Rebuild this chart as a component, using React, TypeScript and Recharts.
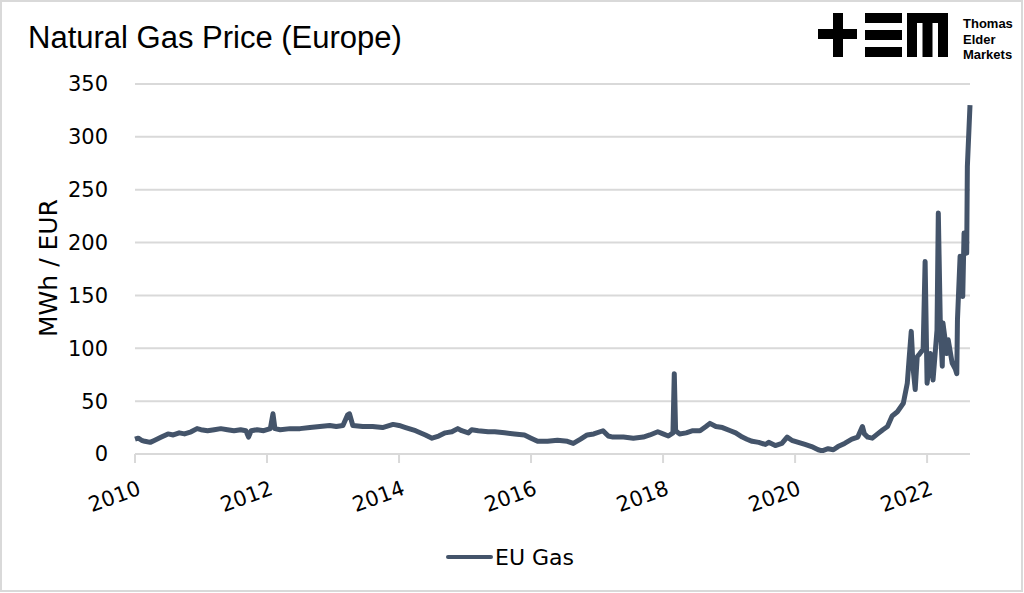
import React from 'react';
import { LineChart, Line, XAxis, YAxis, CartesianGrid } from 'recharts';

const dates = [
  2010.0, 2010.05, 2010.1, 2010.15, 2010.23, 2010.3, 2010.4, 2010.5, 2010.58, 2010.67, 2010.75, 2010.85, 2010.94,
  2011.0, 2011.1, 2011.2, 2011.3, 2011.4, 2011.5, 2011.6, 2011.68, 2011.72, 2011.76, 2011.85, 2011.95,
  2012.05, 2012.09, 2012.12, 2012.2, 2012.35, 2012.5, 2012.65, 2012.8, 2012.95,
  2013.05, 2013.15, 2013.22, 2013.25, 2013.3, 2013.45, 2013.6, 2013.75, 2013.91,
  2014.0, 2014.1, 2014.25, 2014.4, 2014.5, 2014.6, 2014.7, 2014.8, 2014.89, 2014.95,
  2015.05, 2015.1, 2015.2, 2015.35, 2015.45, 2015.6, 2015.75, 2015.9,
  2016.0, 2016.1, 2016.25, 2016.4, 2016.55, 2016.64, 2016.75, 2016.85, 2016.95,
  2017.09, 2017.17, 2017.24, 2017.4, 2017.55, 2017.7, 2017.8, 2017.92,
  2018.0, 2018.08, 2018.15, 2018.17, 2018.19, 2018.25, 2018.35, 2018.45, 2018.56, 2018.65, 2018.71, 2018.8, 2018.9,
  2019.02, 2019.1, 2019.2, 2019.27, 2019.35, 2019.45, 2019.55, 2019.6, 2019.7, 2019.8, 2019.88, 2019.95,
  2020.05, 2020.15, 2020.25, 2020.35, 2020.41, 2020.5, 2020.58, 2020.65, 2020.75, 2020.86, 2020.95,
  2021.02, 2021.05, 2021.1, 2021.17, 2021.25, 2021.33, 2021.4, 2021.47, 2021.55, 2021.64, 2021.7, 2021.73,
  2021.76, 2021.79, 2021.82, 2021.85, 2021.89, 2021.94, 2021.97, 2022.0, 2022.05, 2022.09, 2022.15, 2022.17,
  2022.2, 2022.23, 2022.24, 2022.3, 2022.32, 2022.38, 2022.43, 2022.45, 2022.46, 2022.5, 2022.54, 2022.56,
  2022.6, 2022.61, 2022.65,
];

const euGas = [
  14, 15, 13, 12, 11, 13, 16, 19, 18, 20, 19, 21, 24,
  23, 22, 23, 24, 23, 22, 23, 22, 16, 22, 23, 22,
  24, 38, 24, 23, 24, 24, 25, 26, 27,
  26, 27, 37, 38, 27, 26, 26, 25, 28,
  27, 25, 22, 18, 15, 17, 20, 21, 24, 22,
  20, 23, 22, 21, 21, 20, 19, 18,
  15, 12, 12, 13, 12, 10, 14, 18, 19,
  22, 17, 16, 16, 15, 16, 18, 21,
  19, 17, 20, 76, 22, 19, 20, 22, 22, 26, 29, 26, 25,
  22, 20, 16, 14, 12, 11, 9, 11, 8, 10, 16, 13,
  11, 9, 7, 4, 3, 5, 4, 7, 10, 14, 16,
  26, 19, 16, 15, 19, 23, 26, 36, 40, 48, 67, 92,
  116, 80, 61, 92, 95, 99, 182, 67, 95, 70, 117, 228,
  124, 83, 124, 95, 108, 86, 80, 76, 127, 187, 149, 209,
  190, 272, 330,
];

const xTicks = [2010, 2012, 2014, 2016, 2018, 2020, 2022];
const yTicks = [0, 50, 100, 150, 200, 250, 300, 350];

const title = 'Natural Gas Price (Europe)';
const yLabel = 'MWh / EUR';
const seriesName = 'EU Gas';
const logoLines = ['Thomas', 'Elder', 'Markets'];

const data = dates.map((t, i) => ({ t, v: euGas[i] }));

const LINE = '#44546A';
const GRID = '#d9d9d9';
const NUM_FONT = '"DejaVu Sans", sans-serif';

const XTick = (props: any) => {
  const { x, y, payload } = props;
  const px = x + 7;
  const py = y + 29;
  return (
    <text
      x={px}
      y={py}
      transform={`rotate(-20, ${px}, ${py})`}
      textAnchor="end"
      fontSize={21}
      fontFamily={NUM_FONT}
      fill="#000"
    >
      {String(payload.value)}
    </text>
  );
};

export default function App() {
  return (
    <div style={{ position: 'absolute', left: 0, top: 0, width: 1024, height: 593, background: '#fff' }}>
      <LineChart width={1024} height={593} data={data} margin={{ top: 84, right: 54, left: 0, bottom: 0 }}>
        <CartesianGrid vertical={false} stroke={GRID} strokeWidth={2} />
        <XAxis
          dataKey="t"
          type="number"
          domain={[2010, 2022.65]}
          ticks={xTicks}
          height={139}
          axisLine={{ stroke: GRID, strokeWidth: 2 }}
          tickLine={{ stroke: GRID, strokeWidth: 2 }}
          tickSize={9}
          tick={<XTick />}
          interval={0}
        />
        <YAxis
          type="number"
          domain={[0, 350]}
          ticks={yTicks}
          width={135}
          axisLine={false}
          tickLine={false}
          tickSize={0}
          tickMargin={27}
          tick={{ fontSize: 21, fontFamily: NUM_FONT, fill: '#000' }}
          interval={0}
        />
        <Line
          type="linear"
          dataKey="v"
          name={seriesName}
          stroke={LINE}
          strokeWidth={5}
          strokeLinejoin="round"
          dot={false}
          isAnimationActive={false}
        />
      </LineChart>
      <svg
        width={1024}
        height={593}
        style={{ position: 'absolute', left: 0, top: 0, pointerEvents: 'none' }}
      >
        <rect x={1} y={1} width={1021} height={590} fill="none" stroke={GRID} strokeWidth={2} />
        <text x={28} y={48} fontSize={31} fontFamily='"Liberation Sans", Arial, sans-serif' fill="#000">
          {title}
        </text>
        <text
          x={57}
          y={268}
          transform="rotate(-90, 57, 268)"
          textAnchor="middle"
          fontSize={25}
          fontFamily={NUM_FONT}
          fill="#000"
        >
          {yLabel}
        </text>
        {/* logo */}
        <rect x={818} y={29} width={39} height={10} fill="#000" />
        <rect x={833} y={13} width={10} height={44} fill="#000" />
        <rect x={865} y={13} width={37} height={10} fill="#000" />
        <rect x={865} y={30} width={37} height={10} fill="#000" />
        <rect x={865} y={47} width={37} height={10} fill="#000" />
        <rect x={907} y={13} width={41} height={10} fill="#000" />
        <rect x={907} y={13} width={10} height={44} fill="#000" />
        <rect x={922.5} y={13} width={10} height={44} fill="#000" />
        <rect x={938} y={13} width={10} height={44} fill="#000" />
        {logoLines.map((s, i) => (
          <text
            key={s}
            x={963}
            y={28 + i * 15.5}
            fontSize={13}
            fontWeight="bold"
            fontFamily='"Liberation Sans", Arial, sans-serif'
            fill="#000"
          >
            {s}
          </text>
        ))}
        {/* legend */}
        <line x1={448} y1={557} x2={491} y2={557} stroke={LINE} strokeWidth={4} strokeLinecap="round" />
        <text x={495} y={565} fontSize={22} fontFamily={NUM_FONT} fill="#000">
          {seriesName}
        </text>
      </svg>
    </div>
  );
}
